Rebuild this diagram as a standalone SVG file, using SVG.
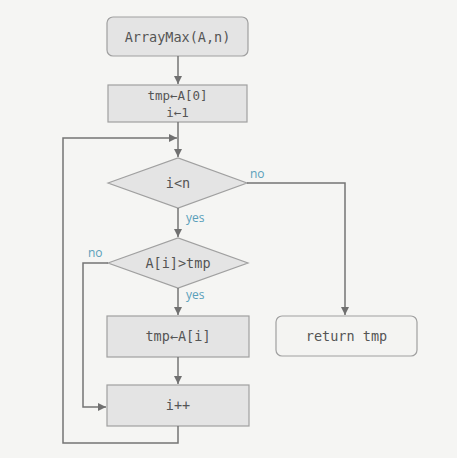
<svg xmlns="http://www.w3.org/2000/svg" width="457" height="458" viewBox="0 0 457 458">
<defs>
<marker id="ah" viewBox="0 0 10 10" refX="10" refY="5" markerWidth="8" markerHeight="8" markerUnits="userSpaceOnUse" orient="auto">
<path d="M0,0 L10,5 L0,10 Z" fill="#707070"/>
</marker>
</defs>
<style>
.box{fill:#e4e4e4;stroke:#a0a0a0;stroke-width:1.2}
.ret{fill:#f4f4f2;stroke:#a0a0a0;stroke-width:1.2}
.t{font-family:"DejaVu Sans Mono","Liberation Mono",monospace;font-size:13.5px;fill:#555;text-anchor:middle;dominant-baseline:central}
.t2{font-size:12.5px}
.lbl{font-family:"Open Sans","Liberation Sans",sans-serif;font-size:12px;fill:#5a9fba}
.c{fill:none;stroke:#747474;stroke-width:1.5}
</style>
<rect width="457" height="458" fill="#f5f5f3"/>
<g id="start"><rect class="box" x="107" y="17" width="141" height="39" rx="6"/><text class="t" x="177.5" y="37">ArrayMax(A,n)</text></g>
<g id="init"><rect class="box" x="108" y="85" width="139" height="37"/><text class="t t2" x="177.5" y="95.5">tmp←A[0]</text><text class="t t2" x="177.5" y="112">i←1</text></g>
<g id="cond1"><polygon class="box" points="108,183 178,158 247,183 178,208"/><text class="t" x="178" y="183">i&lt;n</text></g>
<g id="cond2"><polygon class="box" points="108,263 178,238 248,263 178,288"/><text class="t" x="178" y="263">A[i]&gt;tmp</text></g>
<g id="assign"><rect class="box" x="107" y="316" width="142" height="41"/><text class="t" x="178" y="336">tmp←A[i]</text></g>
<g id="inc"><rect class="box" x="107" y="385" width="142" height="41"/><text class="t" x="178" y="405">i++</text></g>
<g id="ret"><rect class="ret" x="276" y="316" width="141" height="40" rx="6"/><text class="t" x="346.5" y="336">return tmp</text></g>
<g id="connectors">
<path class="c" d="M178,56 V84" marker-end="url(#ah)"/>
<path class="c" d="M178,122 V157" marker-end="url(#ah)"/>
<path class="c" d="M178,208 V237" marker-end="url(#ah)"/>
<path class="c" d="M178,288 V315" marker-end="url(#ah)"/>
<path class="c" d="M178,357 V384" marker-end="url(#ah)"/>
<path class="c" d="M247,183 H345 V315" marker-end="url(#ah)"/>
<path class="c" d="M108,263 H83 V407 H106" marker-end="url(#ah)"/>
<path class="c" d="M178,426 V443 H63 V138 H177" marker-end="url(#ah)"/>
<text class="lbl" x="250" y="178">no</text>
<text class="lbl" x="186" y="222">yes</text>
<text class="lbl" x="88" y="257">no</text>
<text class="lbl" x="186" y="299">yes</text>
</g>
</svg>
